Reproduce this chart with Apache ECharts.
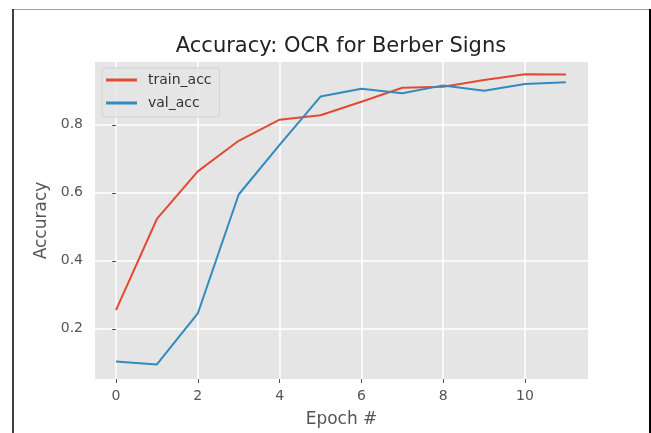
<!DOCTYPE html>
<html>
<head>
<meta charset="utf-8">
<script src="https://cdn.jsdelivr.net/npm/echarts@6/dist/echarts.min.js"></script>
<style>
  html, body { margin: 0; padding: 0; background: #fff; }
  #chart { width: 651px; height: 433px; }
</style>
</head>
<body>
<div id="chart"></div>
<script>
var epochs = [0, 1, 2, 3, 4, 5, 6, 7, 8, 9, 10, 11];
var trainAcc = [0.255, 0.523, 0.663, 0.753, 0.815, 0.828, 0.868, 0.909, 0.912, 0.932, 0.949, 0.948];
var valAcc = [0.104, 0.095, 0.245, 0.595, 0.741, 0.883, 0.906, 0.893, 0.916, 0.900, 0.920, 0.925];
var xTicks = [0, 2, 4, 6, 8, 10];
var yTicks = [0.2, 0.4, 0.6, 0.8];

function pairs(vals) {
    return epochs.map(function (e, i) { return [e, vals[i]]; });
}

var myChart = echarts.init(document.getElementById('chart'));
var font = 'DejaVu Sans';

var option = {
    backgroundColor: '#fff',
    animation: false,
    title: {
        text: 'Accuracy: OCR for Berber Signs',
        left: 341, textAlign: 'center',
        top: 36,
        padding: 0,
        textStyle: {fontFamily: font, fontSize: 21, fontWeight: 'normal', color: '#222'}
    },
    legend: {
        orient: 'vertical',
        left: 102, top: 68,
        padding: [5, 8, 7, 4],
        itemGap: 9,
        itemWidth: 31, itemHeight: 3,
        icon: 'rect',
        backgroundColor: 'rgba(229,229,229,0.8)',
        borderColor: '#d1d1d1', borderWidth: 1, borderRadius: 3,
        textStyle: {fontFamily: font, fontSize: 14, color: '#333', padding: [0, 0, 0, 6], lineHeight: 14},
        data: ['train_acc', 'val_acc']
    },
    grid: {left: 95, top: 62, right: 63, bottom: 53, show: true, backgroundColor: '#e5e5e5', borderWidth: 0},
    xAxis: {
        type: 'value',
        min: -0.513, max: 11.54,
        name: 'Epoch #', nameLocation: 'middle', nameGap: 32,
        nameTextStyle: {fontFamily: font, fontSize: 17, color: '#555'},
        axisLine: {show: false},
        axisTick: {show: true, length: 4, lineStyle: {color: '#555'}, customValues: xTicks},
        axisLabel: {fontFamily: font, fontSize: 14, color: '#555', margin: 10, customValues: xTicks},
        splitLine: {show: true, lineStyle: {color: '#fff', width: 1.5}}
    },
    yAxis: {
        type: 'value',
        min: 0.0522, max: 0.9848,
        name: 'Accuracy', nameLocation: 'middle', nameGap: 43,
        nameTextStyle: {fontFamily: font, fontSize: 17, color: '#555'},
        axisLine: {show: false},
        axisTick: {show: true, length: 4, lineStyle: {color: '#555'}, customValues: yTicks},
        axisLabel: {
            fontFamily: font, fontSize: 14, color: '#555', margin: 12, customValues: yTicks,
            formatter: function (v) { return v.toFixed(1); }
        },
        splitLine: {show: true, lineStyle: {color: '#fff', width: 1.5}}
    },
    graphic: [
        {type: 'line', shape: {x1: 13, y1: 9.5, x2: 651, y2: 9.5}, style: {stroke: '#a0a0a0', lineWidth: 1}, silent: true},
        {type: 'line', shape: {x1: 13, y1: 9, x2: 13, y2: 433}, style: {stroke: '#000', lineWidth: 1.5}, silent: true},
        {type: 'line', shape: {x1: 650, y1: 9, x2: 650, y2: 433}, style: {stroke: '#000', lineWidth: 2}, silent: true}
    ],
    series: [
        {
            name: 'train_acc', type: 'line', symbol: 'none',
            itemStyle: {color: '#e24a33'},
            lineStyle: {color: '#e24a33', width: 2},
            data: pairs(trainAcc)
        },
        {
            name: 'val_acc', type: 'line', symbol: 'none',
            itemStyle: {color: '#348abd'},
            lineStyle: {color: '#348abd', width: 2},
            data: pairs(valAcc)
        }
    ]
};
myChart.setOption(option);
</script>
</body>
</html>
